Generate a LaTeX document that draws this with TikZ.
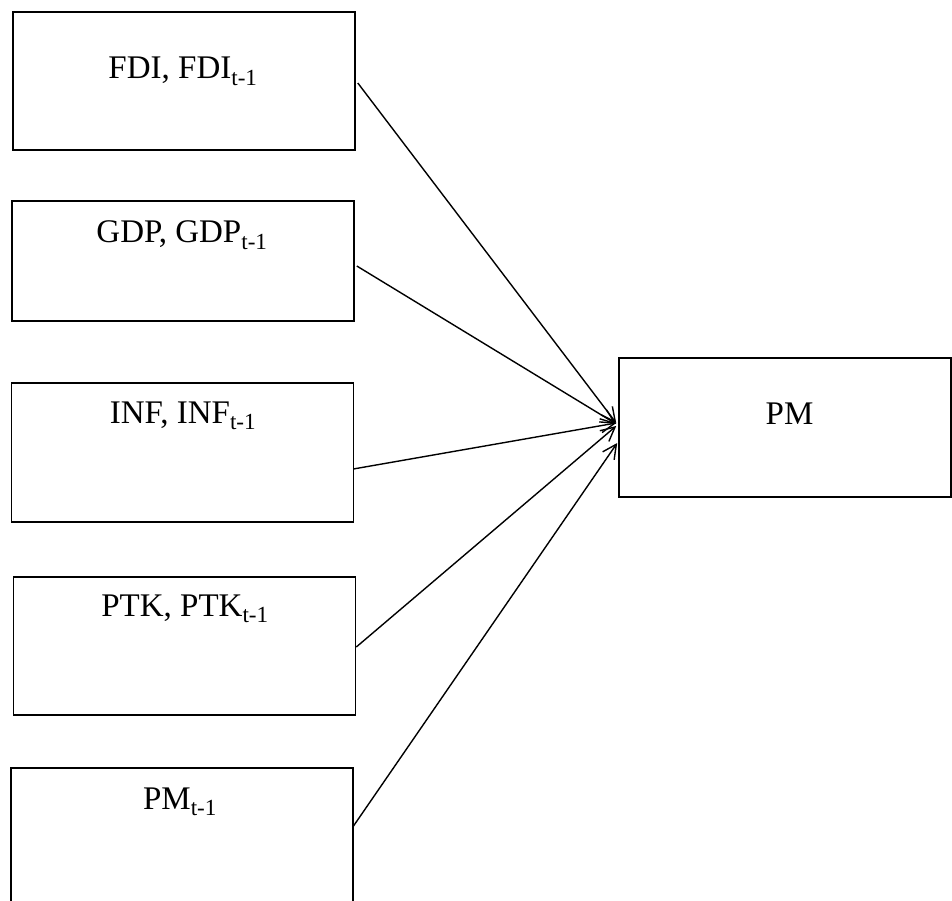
\documentclass[tikz,border=0pt]{standalone}
\usepackage{fontspec}
\setmainfont{Liberation Serif}
\usetikzlibrary{arrows.meta, calc}

\begin{document}
\begin{tikzpicture}[x=1pt, y=-1pt,
	box/.style={draw, line width=1.6pt, inner sep=0pt, minimum width=342pt},
	lab/.style={anchor=base, font=\fontsize{33}{40}\selectfont, inner sep=0pt},
	link/.style={->, line width=1.4pt},
	>={Straight Barb[length=14pt, width=14pt, line width=1.4pt]}]
	\useasboundingbox (0,0) rectangle (952,901);
	% input boxes
	\foreach \n/\x/\y/\h in {fdi/184/81/138, gdp/183/261/120, inf/182.5/452.5/139, ptk/184.5/646/138, pml/182/837/138}{
		\node[box, minimum height=\h pt] (\n) at (\x,\y) {};
	}
	\node[box, minimum width=332pt, minimum height=139pt] (pm) at (785,427.5) {};
	% labels
	\node[lab] (fdilab) at (183,79) {FDI, FDI\textsubscript{t-1}};
	\node[lab] (gdplab) at (182,243) {GDP, GDP\textsubscript{t-1}};
	\node[lab] (inflab) at (183,423) {INF, INF\textsubscript{t-1}};
	\node[lab] (ptklab) at (185,616) {PTK, PTK\textsubscript{t-1}};
	\node[lab] (pmllab) at (180,809) {PM\textsubscript{t-1}};
	\node[lab] (pmlab) at (789.5,424) {PM};
	% links into PM
	\draw[link] ($(fdi.east)+(2,2)$) -- ($(pm.west)+(-2,-4.5)$);
	\draw[link] ($(gdp.east)+(2,5)$) -- ($(pm.west)+(-2,-3.5)$);
	\draw[link] ($(inf.east)+(-1,16.5)$) -- ($(pm.west)+(-2,-4.5)$);
	\draw[link] ($(ptk.east)+(0,1)$) -- ($(pm.west)+(-2,-1.5)$);
	\draw[link] ($(pml.east)+(-1,-10)$) -- ($(pm.west)+(-1,15.5)$);
\end{tikzpicture}
\end{document}
